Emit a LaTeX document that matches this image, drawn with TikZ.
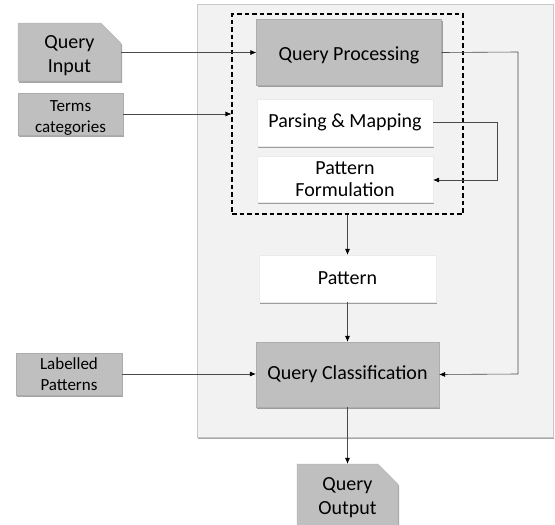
\documentclass[tikz,border=0pt]{standalone}
\usepackage{fontspec}
\setmainfont{Carlito}
\usepackage{tikz}
\usetikzlibrary{shapes,shapes.misc,arrows.meta,shadows}
\definecolor{boxgrey}{HTML}{BFBFBF}
\definecolor{panelgrey}{HTML}{F2F2F2}
\definecolor{linegrey}{HTML}{4A4A4A}
% lowers the text of a node a little, keeping its size
\newcommand{\lowtext}[2]{\raisebox{-#1}[\height][\depth]{\begin{tabular}{@{}c@{}}#2\end{tabular}}}
\tikzset{
	boxshadow/.style={drop shadow={shadow xshift=1.2pt,shadow yshift=-1.8pt,fill=black,opacity=.35}},
	greybox/.style={draw=boxgrey!90!black,line width=.3pt,fill=boxgrey,boxshadow,align=center,inner sep=0pt,font=\fontsize{20}{23}\selectfont},
	whitebox/.style={draw=white!92!black,line width=.3pt,fill=white,boxshadow,align=center,inner sep=0pt,font=\fontsize{20}{22}\selectfont},
	smallbox/.style={greybox,font=\fontsize{17}{21}\selectfont},
	docbox/.style={greybox,font=\fontsize{20}{24}\selectfont,chamfered rectangle,chamfered rectangle corners=north east,chamfered rectangle xsep=10pt,chamfered rectangle ysep=10pt,inner sep=-10pt},
	conn/.style={draw=linegrey,line width=.6pt,-{Latex[length=6pt,width=5pt,fill=black,color=black]}}
}
\begin{document}
\begin{tikzpicture}[x=1pt,y=-1pt]
				\useasboundingbox (0,0) rectangle (555,525);
				% outer panel and dashed group
				\node (panel) [draw=black!22,fill=panelgrey,line width=.6pt,boxshadow,minimum width=356pt,minimum height=433pt,inner sep=0pt] at (375,220.5) {};
				\node (procgroup) [draw=black,dashed,dash pattern=on 4.5pt off 3pt,line width=1.1pt,minimum width=231pt,minimum height=200pt,inner sep=0pt] at (347.5,114) {};
				% boxes
				\node (qproc) [greybox,minimum width=185pt,minimum height=66pt] at (349,52.5) {\lowtext{3pt}{Query Processing}};
				\node (parsing) [whitebox,minimum width=176pt,minimum height=47pt] at (345,122.5) {Parsing \& Mapping};
				\node (formul) [whitebox,minimum width=176pt,minimum height=46pt] at (345,179) {Pattern\\Formulation};
				\node (pattern) [whitebox,minimum width=177pt,minimum height=47pt] at (347.5,278.5) {Pattern};
				\node (qclass) [greybox,minimum width=183pt,minimum height=65pt] at (347.5,374.5) {Query Classification};
				\node (qinput) [docbox,minimum width=103pt,minimum height=58pt] at (69.5,52) {\lowtext{4pt}{Query\\Input}};
				\node (terms) [smallbox,minimum width=105pt,minimum height=42pt] at (70.5,114) {\lowtext{4pt}{Terms\\categories}};
				\node (labelled) [smallbox,minimum width=106pt,minimum height=42pt] at (69,374) {Labelled\\Patterns};
				\node (qoutput) [docbox,minimum width=101pt,minimum height=62pt] at (347.5,495) {\lowtext{3pt}{Query\\Output}};
				% connectors
				\path (518,52) coordinate (r1) (518,374) coordinate (r2);
				\path (497,122.5) coordinate (s1) (497,180) coordinate (s2);
				\draw[conn] (qinput.east |- qproc.west) -- (qproc.west);
				\draw[conn] (terms.east) -- (procgroup.west |- terms.east);
				\draw[conn] (qproc.east) -- (r1) -- (r2) -- (qclass.east);
				\draw[conn] (parsing.east) -- (s1) -- (s2) -- (formul.east |- s2);
				\draw[conn] (procgroup.south) -- (pattern.north);
				\draw[conn] (pattern.south) -- (qclass.north);
				\draw[conn] (labelled.east) -- (qclass.west |- labelled.east);
				\draw[conn] (qclass.south) -- (qoutput.north);
\end{tikzpicture}
\end{document}
